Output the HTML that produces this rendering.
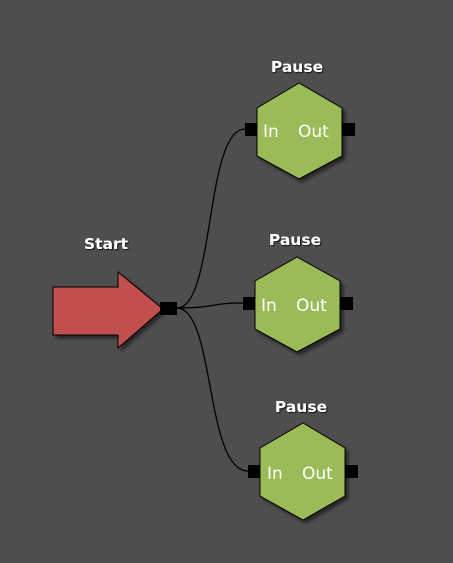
<!DOCTYPE html>
<html><head><style>
html,body{margin:0;padding:0;background:#4e4e4e;width:453px;height:563px;overflow:hidden}
text{font-family:"DejaVu Sans","Liberation Sans",sans-serif}
</style></head><body>
<svg width="453" height="563" viewBox="0 0 453 563" xmlns="http://www.w3.org/2000/svg">
<defs>
<filter id="sh" x="-20%" y="-20%" width="150%" height="150%"><feDropShadow dx="3" dy="3" stdDeviation="1.5" flood-color="#000" flood-opacity="0.5"/></filter>
<filter id="ts"><feDropShadow dx="1" dy="1" stdDeviation="0.6" flood-color="#000" flood-opacity="0.8"/></filter>
</defs>
<g fill="none" stroke="#000" stroke-width="1.3">
<path d="M177 308 C215 308 205 129 245 129"/>
<path d="M177 308 C215 308 210 303 243 303"/>
<path d="M177 308 C215 308 205 471 248 471"/>
</g>
<polygon points="53,287 118,287 118,272 163,309 118,348 118,335 53,335" fill="#c0504d" stroke="#000" stroke-width="1" filter="url(#sh)"/>
<rect x="160" y="302" width="17" height="13" fill="#000"/>
<text x="106" y="249" font-size="15.5" font-weight="bold" fill="#fff" text-anchor="middle" filter="url(#ts)">Start</text>
<g>
<rect x="245" y="123" width="13" height="13" fill="#000"/>
<rect x="341" y="123" width="14" height="13" fill="#000"/>
<polygon points="299,83 342,108 342,156 299,179 257,156 257,108" fill="#9bbb59" stroke="#000" stroke-width="1" filter="url(#sh)"/>
<text x="263" y="137" font-size="17" fill="#fff">In</text>
<text x="298" y="137" font-size="17" fill="#fff">Out</text>
<text x="297" y="72" font-size="15.5" font-weight="bold" fill="#fff" text-anchor="middle" filter="url(#ts)">Pause</text>
</g>
<g>
<rect x="243" y="297" width="13" height="13" fill="#000"/>
<rect x="339" y="297" width="14" height="13" fill="#000"/>
<polygon points="297,257 340,281 340,329 297,352 255,329 255,281" fill="#9bbb59" stroke="#000" stroke-width="1" filter="url(#sh)"/>
<text x="261" y="311" font-size="17" fill="#fff">In</text>
<text x="296" y="311" font-size="17" fill="#fff">Out</text>
<text x="295" y="245" font-size="15.5" font-weight="bold" fill="#fff" text-anchor="middle" filter="url(#ts)">Pause</text>
</g>
<g>
<rect x="248" y="465" width="13" height="13" fill="#000"/>
<rect x="344" y="465" width="14" height="13" fill="#000"/>
<polygon points="303,423 345,448 345,496 303,520 260,496 260,448" fill="#9bbb59" stroke="#000" stroke-width="1" filter="url(#sh)"/>
<text x="267" y="479" font-size="17" fill="#fff">In</text>
<text x="302" y="479" font-size="17" fill="#fff">Out</text>
<text x="301" y="412" font-size="15.5" font-weight="bold" fill="#fff" text-anchor="middle" filter="url(#ts)">Pause</text>
</g>
</svg>
</body></html>
